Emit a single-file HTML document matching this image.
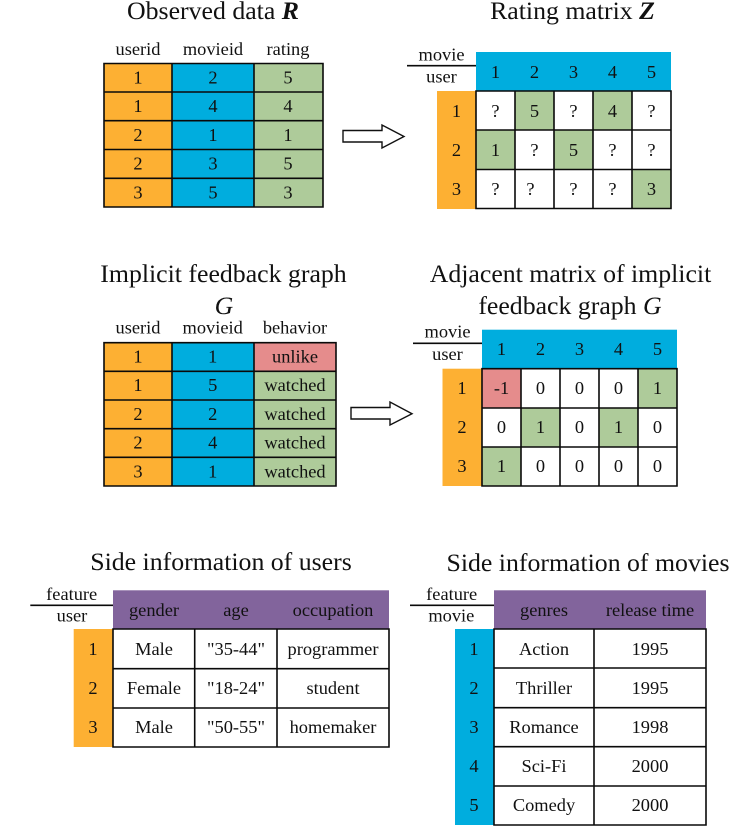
<!DOCTYPE html>
<html><head><meta charset="utf-8"><style>
html,body{margin:0;padding:0;background:#fff;width:730px;height:826px;overflow:hidden}
svg{display:block}
text{font-family:"Liberation Serif",serif;fill:#111;text-anchor:middle;font-size:18.4px}
.t{font-size:25.8px}
.o{fill:#FDB033}.b{fill:#00ADDE}.g{fill:#AECB9A}.r{fill:#E58C8C}.p{fill:#82649C}
.l{fill:none;stroke:#0a0a0a;stroke-width:1.6}
</style></head><body>
<svg width="730" height="826" viewBox="0 0 730 826" xmlns="http://www.w3.org/2000/svg">
<!-- Table 1 -->
<rect class="o" x="104" y="63.5" width="68" height="143.5"/><rect class="b" x="172" y="63.5" width="82" height="143.5"/><rect class="g" x="254" y="63.5" width="69" height="143.5"/>
<path class="l" d="M104 63.5H323V207H104ZM104 92H323M104 120.7H323M104 149.500H323M104 178.300H323M172 63.5V207M254 63.5V207"/>
<!-- Matrix Z -->
<rect class="b" x="476" y="52" width="195" height="39"/><rect class="o" x="437" y="91" width="39" height="118"/>
<rect class="g" x="515" y="91" width="39" height="39"/><rect class="g" x="593" y="91" width="39" height="39"/><rect class="g" x="476" y="130" width="39" height="39.5"/><rect class="g" x="554" y="130" width="39" height="39.5"/><rect class="g" x="632" y="169.5" width="39" height="39"/>
<path class="l" d="M476 91H671V208.500H476ZM476 130H671M476 169.500H671M515 91V208.500M554 91V208.500M593 91V208.500M632 91V208.500M407 65.700H476"/>
<path d="M343 130.500H382V125L404 136.500L382 148V142H343Z" fill="#fff" stroke="#111" stroke-width="1.4"/>
<!-- Table 2 -->
<rect class="o" x="104" y="342.7" width="68" height="143.3"/><rect class="b" x="172" y="342.7" width="82" height="143.3"/><rect class="g" x="254" y="342.7" width="82" height="143.3"/><rect class="r" x="254" y="342.7" width="82" height="28.6"/>
<path class="l" d="M104 342.700H336V486H104ZM104 371.300H336M104 400H336M104 428.700H336M104 457.300H336M172 342.700V486M254 342.700V486"/>
<!-- Matrix G -->
<rect class="b" x="482" y="329.7" width="195" height="39"/><rect class="o" x="442.5" y="368.7" width="39.5" height="117.3"/>
<rect class="r" x="482" y="368.7" width="39" height="39.3"/><rect class="g" x="638" y="368.7" width="39" height="39.3"/><rect class="g" x="521" y="408" width="39" height="39"/><rect class="g" x="599" y="408" width="39" height="39"/><rect class="g" x="482" y="447" width="39" height="39"/>
<path class="l" d="M482 368.700H677V486H482ZM482 408H677M482 447H677M521 368.700V486M560 368.700V486M599 368.700V486M638 368.700V486M413 343.300H482"/>
<path d="M351 407.500H390V402L412 413.700L390 425V419H351Z" fill="#fff" stroke="#111" stroke-width="1.4"/>
<!-- Users -->
<rect class="p" x="113" y="590.3" width="276" height="38.7"/><rect class="o" x="73.7" y="629" width="39.3" height="118"/>
<path class="l" d="M113 629H389V747H113ZM113 668.700H389M113 708H389M194.700 629V747M277 629V747M30.300 605.300H113"/>
<!-- Movies -->
<rect class="p" x="494" y="590.3" width="212" height="38.7"/><rect class="b" x="455" y="629" width="39" height="196"/>
<path class="l" d="M494 629H706V825H494ZM494 668H706M494 707.700H706M494 746.700H706M494 786H706M594 629V825M410 605.300H494"/>
<!-- Titles -->
<text class="t" x="213" y="19">Observed data <tspan font-weight="bold" font-style="italic">R</tspan></text>
<text class="t" x="572.5" y="19">Rating matrix <tspan font-weight="bold" font-style="italic">Z</tspan></text>
<text class="t" x="223.5" y="282">Implicit feedback graph</text>
<text class="t" x="224" y="314" font-style="italic">G</text>
<text class="t" x="570.5" y="282">Adjacent matrix of implicit</text>
<text class="t" x="570" y="314">feedback graph <tspan font-style="italic">G</tspan></text>
<text class="t" x="221" y="570">Side information of users</text>
<text class="t" x="588" y="571">Side information of movies</text>
<!-- Table 1 text -->
<text x="138" y="55">userid</text><text x="213" y="55">movieid</text><text x="288" y="55">rating</text>
<text x="138" y="83.5">1</text><text x="213" y="83.5">2</text><text x="288" y="83.5">5</text>
<text x="138" y="112">1</text><text x="213" y="112">4</text><text x="288" y="112">4</text>
<text x="138" y="141">2</text><text x="213" y="141">1</text><text x="288" y="141">1</text>
<text x="138" y="169.500">2</text><text x="213" y="169.500">3</text><text x="288" y="169.500">5</text>
<text x="138" y="198.500">3</text><text x="213" y="198.500">5</text><text x="288" y="198.500">3</text>
<!-- Matrix Z text -->
<text x="441.500" y="60.700">movie</text><text x="441.500" y="82.300">user</text>
<text x="495.500" y="78">1</text><text x="534.500" y="78">2</text><text x="573.500" y="78">3</text><text x="612.500" y="78">4</text><text x="651.500" y="78">5</text>
<text x="456.500" y="117">1</text><text x="456.500" y="156">2</text><text x="456.500" y="195">3</text>
<text x="495.500" y="117">?</text><text x="534.500" y="117">5</text><text x="573.500" y="117">?</text><text x="612.500" y="117">4</text><text x="651.500" y="117">?</text>
<text x="495.500" y="156">1</text><text x="534.500" y="156">?</text><text x="573.500" y="156">5</text><text x="612.500" y="156">?</text><text x="651.500" y="156">?</text>
<text x="495.500" y="195">?</text><text x="530.500" y="195">?</text><text x="573.500" y="195">?</text><text x="612.500" y="195">?</text><text x="651.500" y="195">3</text>
<!-- Table 2 text -->
<text x="138" y="333.300">userid</text><text x="212.700" y="333.300">movieid</text><text x="295" y="333.300">behavior</text>
<text x="138" y="362.500">1</text><text x="212.700" y="362.500">1</text><text x="295" y="362.500">unlike</text>
<text x="138" y="391">1</text><text x="212.700" y="391">5</text><text x="295" y="391">watched</text>
<text x="138" y="420">2</text><text x="212.700" y="420">2</text><text x="295" y="420">watched</text>
<text x="138" y="448.500">2</text><text x="212.700" y="448.500">4</text><text x="295" y="448.500">watched</text>
<text x="138" y="477.500">3</text><text x="212.700" y="477.500">1</text><text x="295" y="477.500">watched</text>
<!-- Matrix G text -->
<text x="447.500" y="337.700">movie</text><text x="447.500" y="360">user</text>
<text x="501.500" y="355">1</text><text x="540.500" y="355">2</text><text x="579.500" y="355">3</text><text x="618.500" y="355">4</text><text x="657.500" y="355">5</text>
<text x="462" y="394">1</text><text x="462" y="433">2</text><text x="462" y="472">3</text>
<text x="501.500" y="394">-1</text><text x="540.500" y="394">0</text><text x="579.500" y="394">0</text><text x="618.500" y="394">0</text><text x="657.500" y="394">1</text>
<text x="501.500" y="433">0</text><text x="540.500" y="433">1</text><text x="579.500" y="433">0</text><text x="618.500" y="433">1</text><text x="657.500" y="433">0</text>
<text x="501.500" y="472">1</text><text x="540.500" y="472">0</text><text x="579.500" y="472">0</text><text x="618.500" y="472">0</text><text x="657.500" y="472">0</text>
<!-- Users text -->
<text x="71.700" y="600">feature</text><text x="72" y="621.700">user</text>
<text x="154" y="616">gender</text><text x="236" y="616">age</text><text x="333" y="616">occupation</text>
<text x="93" y="655">1</text><text x="93" y="694">2</text><text x="93" y="733">3</text>
<text x="154" y="655">Male</text><text x="236" y="655">"35-44"</text><text x="333" y="655">programmer</text>
<text x="154" y="694">Female</text><text x="236" y="694">"18-24"</text><text x="333" y="694">student</text>
<text x="154" y="733">Male</text><text x="236" y="733">"50-55"</text><text x="333" y="733">homemaker</text>
<!-- Movies text -->
<text x="451.700" y="600">feature</text><text x="451.300" y="621.700">movie</text>
<text x="544" y="616">genres</text><text x="650" y="616">release time</text>
<text x="474" y="655">1</text><text x="474" y="694">2</text><text x="474" y="733">3</text><text x="474" y="772">4</text><text x="474" y="811">5</text>
<text x="544" y="655">Action</text><text x="650" y="655">1995</text>
<text x="544" y="694">Thriller</text><text x="650" y="694">1995</text>
<text x="544" y="733">Romance</text><text x="650" y="733">1998</text>
<text x="544" y="772">Sci-Fi</text><text x="650" y="772">2000</text>
<text x="544" y="811">Comedy</text><text x="650" y="811">2000</text>
</svg>
</body></html>
